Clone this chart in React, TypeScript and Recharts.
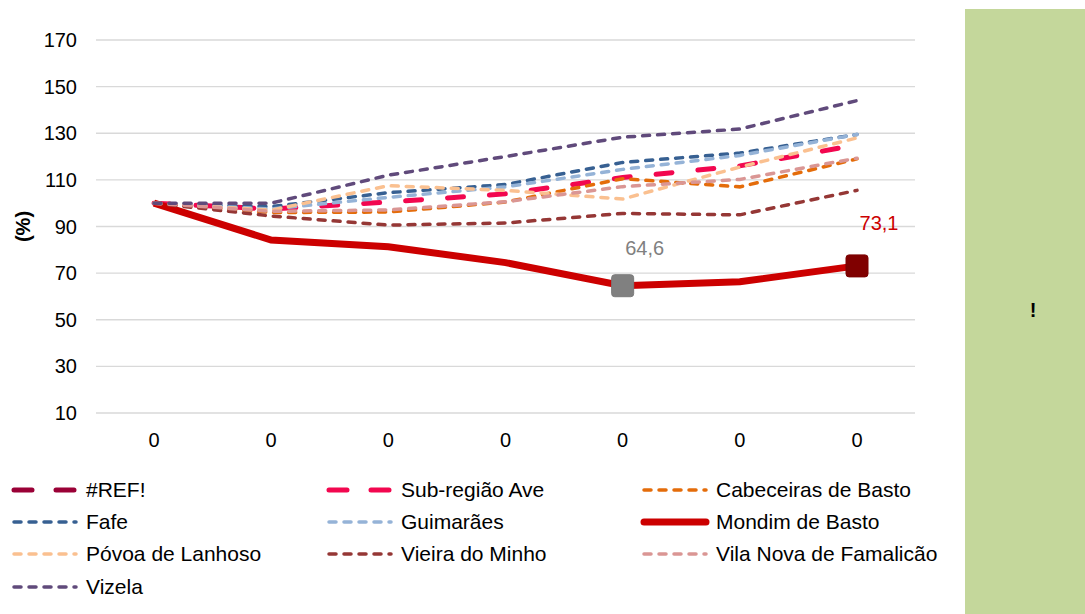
import React from "react";
import { LineChart, Line, XAxis, YAxis, CartesianGrid, Legend, LabelList } from "recharts";

const categories = [0, 1, 2, 3, 4, 5, 6];
const xLabels = ["0", "0", "0", "0", "0", "0", "0"];
const yTicks = [10, 30, 50, 70, 90, 110, 130, 150, 170];

const refError: (number | null)[] = [null, null, null, null, null, null, null];
const subRegiaoAve = [100, 97.5, 100.5, 104, 111, 116, 125];
const cabeceirasDeBasto = [100, 96, 96.2, 100.5, 110.5, 107, 119];
const fafe = [100, 98.5, 104.5, 108, 117.5, 121.5, 129.5];
const guimaraes = [100, 97.5, 102.5, 107, 114.5, 120.5, 129.5];
const mondimDeBasto = [100, 84.2, 81.3, 74.5, 64.6, 66.3, 73.1];
const povoaDeLanhoso = [100, 97, 107.5, 105.5, 101.8, 115.5, 128];
const vieiraDoMinho = [100, 94.5, 90.6, 91.5, 95.6, 95, 105.5];
const vilaNovaDeFamalicao = [100, 96.5, 97.1, 100.6, 107.1, 110.2, 119.3];
const vizela = [100, 100, 112, 120, 128.3, 131.8, 144];

const seriesNames = [
  "#REF!",
  "Sub-região Ave",
  "Cabeceiras de Basto",
  "Fafe",
  "Guimarães",
  "Mondim de Basto",
  "Póvoa de Lanhoso",
  "Vieira do Minho",
  "Vila Nova de Famalicão",
  "Vizela",
];

const seriesValues = [
  refError,
  subRegiaoAve,
  cabeceirasDeBasto,
  fafe,
  guimaraes,
  mondimDeBasto,
  povoaDeLanhoso,
  vieiraDoMinho,
  vilaNovaDeFamalicao,
  vizela,
];

type Style = { color: string; width: number; dash?: string };
const seriesStyles: Style[] = [
  { color: "#9A0036", width: 5, dash: "16 26" },
  { color: "#F2074F", width: 5, dash: "16 26" },
  { color: "#E46C0A", width: 3.5, dash: "7 8" },
  { color: "#376092", width: 3.5, dash: "7 8" },
  { color: "#95B3D7", width: 3.5, dash: "7 8" },
  { color: "#CC0000", width: 7 },
  { color: "#FAC090", width: 3.5, dash: "7 8" },
  { color: "#953735", width: 3.5, dash: "7 8" },
  { color: "#DA9694", width: 3.5, dash: "7 8" },
  { color: "#604A7B", width: 3.5, dash: "7 8" },
];

const data = categories.map((c, i) => {
  const row: Record<string, number | null> = { idx: c };
  seriesValues.forEach((vals, s) => {
    row["s" + s] = vals[i];
  });
  return row;
});

const FONT = "'Liberation Sans', Arial, sans-serif";
const FS = 20;
const LFS = 21;

const MondimDot = (props: any) => {
  const { cx, cy, index } = props;
  if (index === 4) {
    return <rect key={"d" + index} x={cx - 11} y={cy - 11} width={22} height={22} rx={3} fill="#808080" stroke="#7a7a7a" strokeWidth={1} />;
  }
  if (index === 6) {
    return <rect key={"d" + index} x={cx - 11} y={cy - 11} width={22} height={22} rx={3} fill="#800000" stroke="#7a0000" strokeWidth={1} />;
  }
  return <g key={"d" + index} />;
};

const MondimLabel = (props: any) => {
  const { x, y, index, value } = props;
  if (index !== 4 && index !== 6) return null;
  const txt = String(value).replace(".", ",");
  const color = index === 4 ? "#808080" : "#CC0000";
  const dy = index === 4 ? -38 : -43;
  return (
    <text x={x + 22} y={y + dy + 7} textAnchor="middle" fill={color} fontSize={FS} fontFamily={FONT}>
      {txt}
    </text>
  );
};

const legendCols = [12, 327, 642];
const legendRowY = [20, 52, 84, 117];

const renderLegend = () => (
  <svg width={965} height={140} style={{ display: "block" }}>
    {seriesNames.map((name, i) => {
      const col = i % 3;
      const row = Math.floor(i / 3);
      const x0 = legendCols[col];
      const y = legendRowY[row];
      const st = seriesStyles[i];
      return (
        <g key={name}>
          <line
            x1={x0 + 2}
            x2={x0 + 64}
            y1={y}
            y2={y}
            stroke={st.color}
            strokeWidth={st.width}
            strokeDasharray={st.dash ? (st.width >= 5 ? "18 24" : "7 8") : undefined}
            strokeLinecap="round"
          />
          <text x={x0 + 74} y={y + 7} fontSize={LFS} fontFamily={FONT} fill="#000">
            {name}
          </text>
        </g>
      );
    })}
  </svg>
);

export default function App() {
  return (
    <div style={{ position: "absolute", left: 0, top: 0, width: 1085, height: 614, background: "#fff", overflow: "hidden" }}>
      <LineChart width={965} height={614} data={data} margin={{ top: 40, right: 50, bottom: 171, left: 0 }}>
        <CartesianGrid vertical={false} stroke="#D9D9D9" strokeWidth={1.3} />
        <XAxis
          dataKey="idx"
          type="category"
          height={30}
          padding={{ left: 58, right: 58 }}
          axisLine={false}
          tickLine={false}
          tickMargin={14}
          tickFormatter={(v: any, i: number) => xLabels[i]}
          tick={{ fontSize: FS, fontFamily: FONT, fill: "#000" }}
          interval={0}
        />
        <YAxis
          width={96}
          domain={[10, 170]}
          ticks={yTicks}
          axisLine={false}
          tickLine={false}
          tickMargin={13}
          tick={{ fontSize: FS, fontFamily: FONT, fill: "#000" }}
          label={(p: any) => {
            const vb = p.viewBox;
            const cx = vb.x + 23;
            const cy = vb.y + vb.height / 2;
            return (
              <text x={cx} y={cy} transform={`rotate(-90 ${cx} ${cy})`} textAnchor="middle" dominantBaseline="central" fontSize={FS} fontWeight="bold" fontFamily={FONT} fill="#000">
                (%)
              </text>
            );
          }}
        />
        <Legend
          layout="horizontal"
          verticalAlign="middle"
          align="center"
          content={renderLegend}
          wrapperStyle={{ position: "absolute", left: 0, top: 470, width: 965, height: 140 }}
        />
        {seriesNames.map((name, s) => {
          const st = seriesStyles[s];
          if (s === 5) {
            return (
              <Line
                key={name}
                type="linear"
                dataKey={"s" + s}
                name={name}
                stroke={st.color}
                strokeWidth={st.width}
                dot={MondimDot}
                activeDot={false}
                isAnimationActive={false}
              >
                <LabelList dataKey={"s" + s} content={MondimLabel} />
              </Line>
            );
          }
          return (
            <Line
              key={name}
              type="linear"
              dataKey={"s" + s}
              name={name}
              stroke={st.color}
              strokeWidth={st.width}
              strokeDasharray={st.dash}
              strokeLinecap="round"
              dot={false}
              activeDot={false}
              isAnimationActive={false}
            />
          );
        })}
      </LineChart>
      <div style={{ position: "absolute", left: 965, top: 9, width: 120, height: 605, background: "#C4D79B" }}>
        <div style={{ position: "absolute", left: 0, width: 136, top: 290, textAlign: "center", fontFamily: FONT, fontWeight: "bold", fontSize: FS }}>!</div>
      </div>
    </div>
  );
}
